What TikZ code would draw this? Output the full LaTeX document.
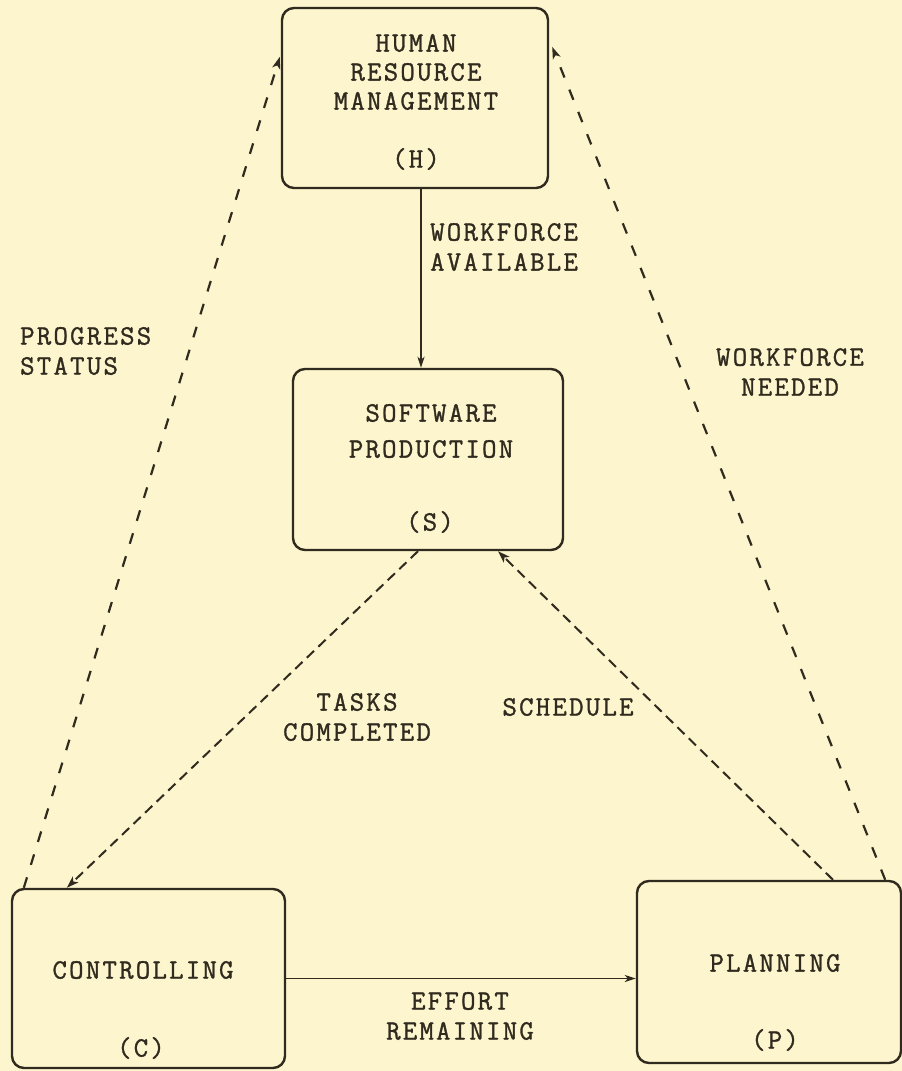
\documentclass[tikz,border=0pt]{standalone}
\usepackage{fontspec}
\setmainfont{Latin Modern Mono}[LetterSpace=8,FakeBold=1.2]
\usetikzlibrary{arrows.meta,calc}
\definecolor{bgc}{RGB}{252,245,206}
\definecolor{ink}{RGB}{48,43,30}
\begin{document}
\begin{tikzpicture}[x=1pt,y=-1pt,
  box/.style={draw=ink,line width=2.4pt,rounded corners=12pt,inner sep=0pt},
  lab/.style={text=ink,font=\fontsize{28}{30}\selectfont,align=center,inner sep=0pt},
  arr/.style={draw=ink,line width=1.8pt,-{Stealth[length=11pt,width=7pt,inset=3pt]}},
  darr/.style={draw=ink,line width=2.2pt,dash pattern=on 11pt off 13pt,-{Stealth[length=12pt,width=8pt,inset=3pt]}},
  sarr/.style={draw=ink,line width=2.0pt,dash pattern=on 10pt off 6pt,-{Stealth[length=12pt,width=8pt,inset=3pt]}}]
\fill[bgc] (0,0) rectangle (902,1071);
\useasboundingbox (0,0) rectangle (902,1071);
% boxes
\node[box,minimum width=266pt,minimum height=180pt] (H) at (415,98) {};
\node[box,minimum width=270pt,minimum height=181pt] (S) at (428,459.5) {};
\node[box,minimum width=273pt,minimum height=179pt] (C) at (148.5,978.5) {};
\node[box,minimum width=264pt,minimum height=182pt] (P) at (769,972) {};
% box texts
\node[lab,font=\fontsize{28}{29}\selectfont] (Ht) at (416,72) {HUMAN\\RESOURCE\\MANAGEMENT};
\node[lab] (Hl) at (416,159) {(H)};
\node[lab,font=\fontsize{28}{36}\selectfont] (St) at (431,431) {SOFTWARE\\PRODUCTION};
\node[lab] (Sl) at (430,522) {(S)};
\node[lab] (Ct) at (143,970) {CONTROLLING};
\node[lab] (Cl) at (141,1048) {(C)};
\node[lab] (Pt) at (775,963) {PLANNING};
\node[lab] (Pl) at (775,1040) {(P)};
% connectors
\draw[arr] ($(H.south)+(6,0)$) -- ($(S.north)+(-7,0)$);
\draw[arr] (C.east) -- (C.east -| P.west);
\draw[darr] ($(C.north west)+(13,0)$) -- ($(H.north west)+(-1,50)$);
\draw[darr] ($(P.north east)+(-17,0)$) -- ($(H.north east)+(3,40)$);
\draw[sarr] ($(S.south)+(-10,0)$) -- ($(C.north west)+(56,0)$);
\draw[sarr] ($(P.north)+(64,0)$) -- ($(S.south)+(70,0)$);
% connector labels
\node[lab,align=left,anchor=west] (wa) at (430,247) {WORKFORCE\\AVAILABLE};
\node[lab,align=left,anchor=west] (ps) at (20,351) {PROGRESS\\STATUS};
\node[lab] (wn) at (790,372) {WORKFORCE\\NEEDED};
\node[lab] (tc) at (357,717) {TASKS\\COMPLETED};
\node[lab] (sc) at (568,707) {SCHEDULE};
\node[lab] (er) at (460,1016) {EFFORT\\REMAINING};
\end{tikzpicture}
\end{document}
